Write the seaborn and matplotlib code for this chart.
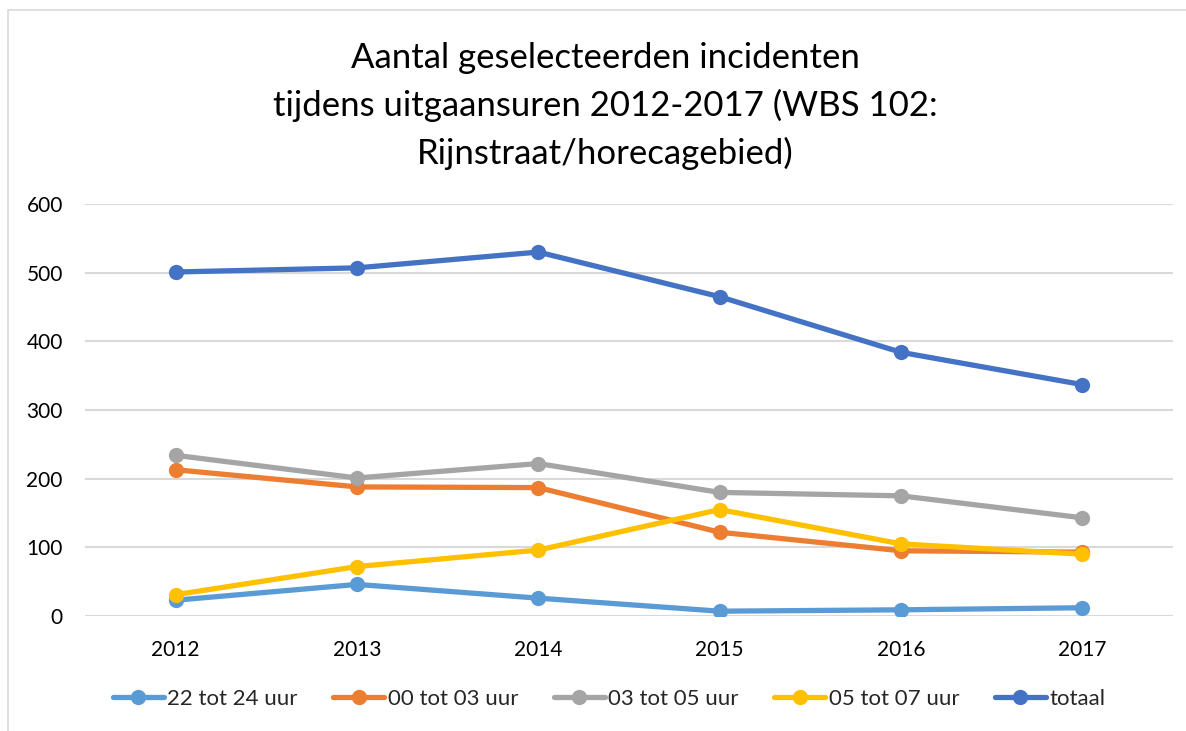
import matplotlib
matplotlib.use("Agg")
import matplotlib.pyplot as plt
import seaborn as sns
import pandas as pd
from matplotlib.patches import Rectangle

years = [2012, 2013, 2014, 2015, 2016, 2017]
s_22_24 = [23, 46, 26, 7, 9, 12]
s_00_03 = [213, 188, 187, 122, 95, 93]
s_03_05 = [234, 201, 222, 180, 175, 143]
s_05_07 = [31, 72, 96, 155, 105, 90]
s_totaal = [501, 507, 530, 465, 384, 337]

series_names = ["22 tot 24 uur", "00 tot 03 uur", "03 tot 05 uur", "05 tot 07 uur", "totaal"]
series_values = [s_22_24, s_00_03, s_03_05, s_05_07, s_totaal]
colors = ["#5B9BD5", "#ED7D31", "#A5A5A5", "#FFC000", "#4472C4"]
yticks = [0, 100, 200, 300, 400, 500, 600]
title = "Aantal geselecteerden incidenten\ntijdens uitgaansuren 2012-2017 (WBS 102:\nRijnstraat/horecagebied)"

rows = []
for name, vals in zip(series_names, series_values):
    for y, v in zip(years, vals):
        rows.append({"jaar": y, "aantal": v, "serie": name})
df = pd.DataFrame(rows)

sns.set_theme(style="white")
plt.rcParams["font.family"] = ["Lato", "DejaVu Sans"]

fig = plt.figure(figsize=(11.86, 7.31), dpi=100)
ax = fig.add_axes([85 / 1186, 1 - 616 / 731, 1088 / 1186, 412 / 731])

sns.lineplot(data=df, x="jaar", y="aantal", hue="serie", hue_order=series_names,
             palette=colors, marker="o", markersize=11, markeredgewidth=0,
             linewidth=3.8, ax=ax, legend=True)

ax.set_xlim(years[0] - 0.5, years[-1] + 0.5)
ax.set_ylim(0, 600)
ax.set_yticks(yticks)
ax.set_xticks(years)
ax.set_xticklabels([str(y) for y in years])
ax.tick_params(axis="both", length=0, labelsize=15, colors="#000000")
ax.tick_params(axis="x", pad=17)
ax.tick_params(axis="y", pad=16)
ax.yaxis.grid(True, color="#D9D9D9", linewidth=1.5)
ax.set_axisbelow(True)
for sp in ax.spines.values():
    sp.set_visible(False)
ax.set_xlabel("")
ax.set_ylabel("")

handles, labels = ax.get_legend_handles_labels()
if ax.get_legend() is not None:
    ax.get_legend().remove()
fig.legend(handles, labels, loc="center", bbox_to_anchor=(609 / 1186, 1 - 699 / 731),
           ncol=5, frameon=False, fontsize=16, handlelength=2.3, columnspacing=1.6,
           handletextpad=0.15)

fig.text(605 / 1186, 1 - 106 / 731, title, ha="center", va="center", fontsize=25,
         linespacing=1.55, color="#000000")

fig.patches.append(Rectangle((8 / 1186, -0.1), 1.2, (1 + 0.1) - 10 / 731,
                             transform=fig.transFigure, fill=False,
                             edgecolor="#D9D9D9", linewidth=1.2))

fig.savefig("out.png", dpi=100)
